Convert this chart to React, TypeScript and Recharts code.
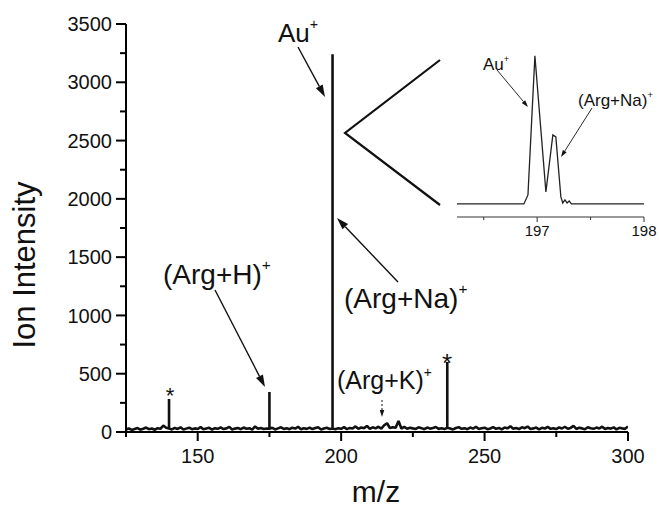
import React from 'react'
import { LineChart, Line, XAxis, YAxis } from 'recharts'

// baseline noise, one value per m/z unit from 125 to 300
const noiseStart = 125
const noise = [
  22, 30, 18, 26, 34, 20, 28, 38, 24, 30, 19, 33, 27, 55, 36, 30, 22, 35, 26, 40, 21, 29, 37, 24, 31,
  26, 42, 23, 30, 36, 20, 33, 27, 39, 25, 31, 44, 22, 29, 35, 24, 38, 28, 33, 21, 48, 27, 34, 25, 30,
  28, 36, 22, 31, 40, 26, 33, 24, 37, 29, 45, 23, 32, 27, 38, 25, 34, 41, 22, 30, 36, 26, 30, 24, 33,
  27, 42, 25, 35, 30, 48, 28, 38, 33, 52, 26, 40, 31, 45, 29, 58, 75, 34, 40, 36, 95, 30, 44, 28, 37,
  31, 26, 40, 33, 24, 38, 29, 35, 43, 27, 32, 25, 36, 30, 22, 34, 41, 27, 33, 24, 38, 29, 45, 26, 32,
  37, 24, 30, 42, 27, 35, 22, 39, 31, 50, 28, 34, 25, 40, 33, 47, 26, 31, 38, 23, 36, 29, 44, 27, 33,
  25, 39, 30, 45, 28, 35, 52, 26, 37, 31, 24, 41, 33, 27, 38, 30, 46, 25, 34, 29, 40, 23, 36, 31, 27, 48,
]

const peakMz = [140, 175, 197, 237]
const peakIntensity = [284, 344, 3240, 600]

const xTicks = [125, 150, 175, 200, 225, 250, 275, 300]
const yTicks = [0, 250, 500, 750, 1000, 1250, 1500, 1750, 2000, 2250, 2500, 2750, 3000, 3250, 3500]

// zoomed view of the 197 peak
const insetMz = [196.25, 196.876, 196.914, 196.979, 197.082, 197.147, 197.175, 197.222, 197.24, 197.26, 197.28, 197.3, 197.32, 198]
const insetIntensity = [0, 0, 197, 3240, 263, 1510, 1467, 153, 22, 88, 22, 66, 0, 0]
const insetTicks = [196.5, 197, 197.5, 198]

const mainData: { mz: number; v: number }[] = []
noise.forEach((v, i) => {
  const mz = noiseStart + i
  mainData.push({ mz, v })
  const p = peakMz.indexOf(mz)
  if (p >= 0) mainData.push({ mz, v: peakIntensity[p] }, { mz, v })
})

const insetData = insetMz.map((mz, i) => ({ mz, v: insetIntensity[i] }))

const font = '"Liberation Sans", Arial, sans-serif'

const XTick = ({ x, y, payload }: any) => {
  const major = payload.value % 50 === 0
  return (
    <g>
      <line x1={x} x2={x} y1={y} y2={y + (major ? 9 : 5)} stroke="#000" strokeWidth={2} />
      {major && (
        <text x={x} y={y + 31} textAnchor="middle" fontSize={20} fontFamily={font} fill="#111">
          {payload.value}
        </text>
      )}
    </g>
  )
}

const YTick = ({ x, y, payload }: any) => {
  const major = payload.value % 500 === 0
  return (
    <g>
      <line x1={x - (major ? 10 : 6)} x2={x} y1={y} y2={y} stroke="#000" strokeWidth={2} />
      {major && (
        <text x={x - 14} y={y} dy="0.36em" textAnchor="end" fontSize={20} fontFamily={font} fill="#111">
          {payload.value}
        </text>
      )}
    </g>
  )
}

const InsetTick = ({ x, y, payload }: any) => {
  const major = Number.isInteger(payload.value)
  return (
    <g>
      <line x1={x} x2={x} y1={y} y2={y + (major ? 5 : 3)} stroke="#333" strokeWidth={1} />
      {major && (
        <text x={x} y={y + 19} textAnchor="middle" fontSize={15} fontFamily={font} fill="#111">
          {payload.value}
        </text>
      )}
    </g>
  )
}

function Arrow({ x1, y1, x2, y2, w = 1.4, head = 12, dash }: any) {
  const a = Math.atan2(y2 - y1, x2 - x1)
  const bx = x2 - head * Math.cos(a)
  const by = y2 - head * Math.sin(a)
  const hw = head * 0.32
  const px = -Math.sin(a) * hw
  const py = Math.cos(a) * hw
  return (
    <g>
      <line x1={x1} y1={y1} x2={bx} y2={by} stroke="#111" strokeWidth={w} strokeDasharray={dash} />
      <polygon points={`${x2},${y2} ${bx + px},${by + py} ${bx - px},${by - py}`} fill="#111" />
    </g>
  )
}

function Ion({ x, y, text, size }: any) {
  return (
    <text x={x} y={y} fontSize={size} fontFamily={font} fill="#111">
      {text}
      <tspan dy={-size * 0.5} fontSize={size * 0.55}>+</tspan>
    </text>
  )
}

export default function App() {
  return (
    <div style={{ position: 'absolute', left: 0, top: 0, width: 659, height: 509, background: '#fff', fontFamily: font }}>
      <LineChart width={659} height={509} data={mainData} margin={{ top: 24, right: 31, bottom: 37, left: 66 }}>
        <XAxis
          dataKey="mz"
          type="number"
          domain={[125, 300]}
          ticks={xTicks}
          interval={0}
          height={40}
          tickSize={0}
          tickMargin={0}
          tickLine={false}
          tick={<XTick />}
          axisLine={{ stroke: '#000', strokeWidth: 2 }}
          allowDataOverflow
        />
        <YAxis
          type="number"
          domain={[0, 3500]}
          ticks={yTicks}
          interval={0}
          width={60}
          tickSize={0}
          tickMargin={0}
          tickLine={false}
          tick={<YTick />}
          axisLine={{ stroke: '#000', strokeWidth: 2 }}
        />
        <Line
          type="linear"
          dataKey="v"
          stroke="#111"
          strokeWidth={2.6}
          strokeLinejoin="bevel"
          dot={false}
          isAnimationActive={false}
        />
      </LineChart>

      <div style={{ position: 'absolute', left: 440, top: 30 }}>
        <LineChart width={219} height={225} data={insetData} margin={{ top: 14, right: 15, bottom: 8, left: 17 }}>
          <XAxis
            dataKey="mz"
            type="number"
            domain={[196.25, 198]}
            ticks={insetTicks}
            interval={0}
            height={30}
            tickSize={0}
            tickMargin={0}
            tickLine={false}
            tick={<InsetTick />}
            axisLine={{ stroke: '#333', strokeWidth: 1 }}
            allowDataOverflow
          />
          <YAxis hide type="number" domain={[-285, 3500]} />
          <Line type="linear" dataKey="v" stroke="#222" strokeWidth={1.3} dot={false} isAnimationActive={false} />
        </LineChart>
      </div>

      <svg width={659} height={509} style={{ position: 'absolute', left: 0, top: 0, pointerEvents: 'none' }}>
        <text
          transform="translate(35,265) rotate(-90)"
          textAnchor="middle"
          fontSize={31}
          fontFamily={font}
          fill="#111"
        >
          Ion Intensity
        </text>
        <text x={376} y={502} textAnchor="middle" fontSize={30} fontFamily={font} fill="#111">
          m/z
        </text>

        <Ion x={278} y={42} text="Au" size={26} />
        <Arrow x1={298} y1={47} x2={325} y2={97} />
        <polyline points="440,60 345,133 440,205" fill="none" stroke="#111" strokeWidth={2.2} />
        <Arrow x1={398} y1={282} x2={337} y2={218} />
        <Ion x={344} y={308} text="(Arg+Na)" size={28} />
        <Ion x={163} y={284} text="(Arg+H)" size={28} />
        <Arrow x1={215} y1={290} x2={265} y2={387} />
        <Ion x={337} y={389} text="(Arg+K)" size={25} />
        <Arrow x1={382} y1={400} x2={382} y2={417} w={1} head={7} dash="2 2" />
        <text x={170} y={403} textAnchor="middle" fontSize={22} fontFamily={font} fill="#111">*</text>
        <text x={447} y={372} textAnchor="middle" fontSize={26} fontFamily={font} fill="#111">*</text>

        <Ion x={483} y={70} text="Au" size={17} />
        <Arrow x1={497} y1={70} x2={528} y2={107} w={0.9} head={7} />
        <Ion x={578} y={106} text="(Arg+Na)" size={17} />
        <Arrow x1={592} y1={108} x2={561} y2={157} w={0.9} head={7} />
      </svg>
    </div>
  )
}
